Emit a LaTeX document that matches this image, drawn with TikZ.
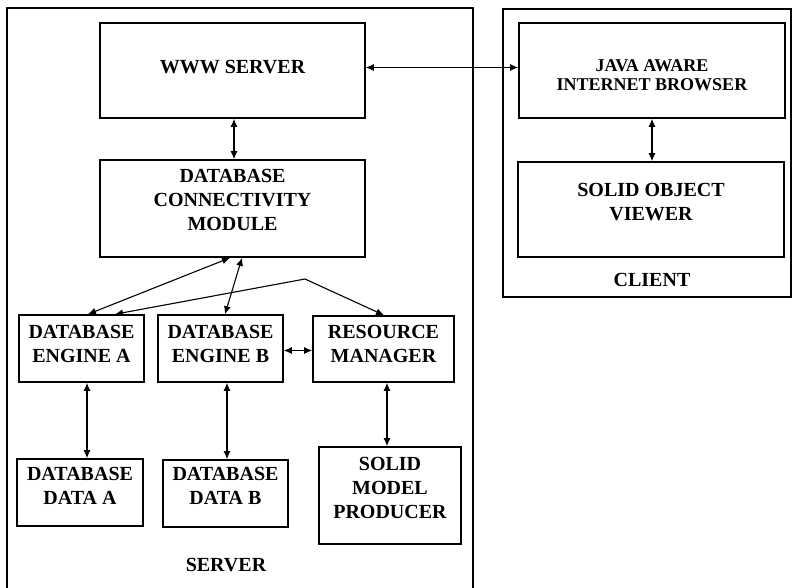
\documentclass[tikz,border=0pt]{standalone}
\usepackage{fontspec}
\setmainfont{Liberation Serif}
\usetikzlibrary{arrows.meta,calc}
\begin{document}
\begin{tikzpicture}[x=1pt,y=-1pt,
  box/.style n args={2}{draw,line width=1.6pt,inner sep=0pt,minimum width=#1pt,minimum height=#2pt},
  txt/.style={font=\bfseries\fontsize{20}{24}\selectfont,align=center,inner sep=0pt},
  tighttxt/.style={font=\bfseries\fontsize{18}{19.5}\selectfont,align=center,inner sep=0pt},
  link/.style={line width=1.1pt,{Latex[length=8pt,width=7pt]}-{Latex[length=8pt,width=7pt]}},
  frame/.style={line width=1.4pt}]
\useasboundingbox (0,0) rectangle (792,587);
% group frames
\draw[frame] (7,590) -- (7,8) -- (473,8) -- (473,590);
\node[draw,frame,inner sep=0pt,minimum width=288pt,minimum height=288pt] (client) at (647,153) {};
% boxes
\node[box={265}{95}] (www) at (232.5,70.5) {};
\node[box={266}{95}] (java) at (652,70.5) {};
\node[box={265}{97}] (conn) at (232.5,208.5) {};
\node[box={266}{95}] (viewer) at (651,209.5) {};
\node[box={125}{67}] (engA) at (81.5,348.5) {};
\node[box={125}{67}] (engB) at (220.5,348.5) {};
\node[box={141}{66}] (res) at (383.5,349) {};
\node[box={126}{67}] (dataA) at (80,492.5) {};
\node[box={125}{67}] (dataB) at (225.5,493.5) {};
\node[box={142}{97}] (smp) at (390,495.5) {};
% texts
\node[txt] (wwwT) at (232.5,67.5) {WWW SERVER};
\node[tighttxt] (javaT) at (652,75) {JAVA AWARE\\INTERNET BROWSER};
\node[txt] (connT) at (232.5,200) {DATABASE\\CONNECTIVITY\\MODULE};
\node[txt] (viewerT) at (651,202) {SOLID OBJECT\\VIEWER};
\node[txt] (engAT) at (81.5,343.5) {DATABASE\\ENGINE A};
\node[txt] (engBT) at (220.5,343.5) {DATABASE\\ENGINE B};
\node[txt] (resT) at (383.5,344) {RESOURCE\\MANAGER};
\node[txt] (dataAT) at (80,485.5) {DATABASE\\DATA A};
\node[txt] (dataBT) at (225.5,486) {DATABASE\\DATA B};
\node[txt] (smpT) at (390,487.5) {SOLID\\MODEL\\PRODUCER};
\node[txt] (serverL) at (226,565) {SERVER};
\node[txt] (clientL) at (652,280) {CLIENT};
% connectors
\draw[link] (www.east |- wwwT) -- (java.west |- wwwT);
\draw[link] ([xshift=1.5pt]www.south) -- ([xshift=1.5pt]www.south |- conn.north);
\draw[link] (java.south) -- (java.south |- viewer.north);
\draw[link] ([xshift=6.5pt]engA.north) -- ([xshift=-2.5pt]conn.south);
\draw[link] ([xshift=4.5pt]engB.north) -- ([xshift=9.5pt]conn.south);
\coordinate (bend) at (305,279);
\draw[link] ([xshift=33.5pt]engA.north) -- (bend) -- ([xshift=0.5pt]res.north);
\draw[link] ([yshift=-2pt]engB.east) -- ([yshift=-2pt]engB.east -| res.west);
\draw[link] ([xshift=5.5pt]engA.south) -- ([xshift=5.5pt]engA.south |- dataA.north);
\draw[link] ([xshift=6.5pt]engB.south) -- ([xshift=6.5pt]engB.south |- dataB.north);
\draw[link] ([xshift=3.5pt]res.south) -- ([xshift=3.5pt]res.south |- smp.north);
\end{tikzpicture}
\end{document}
